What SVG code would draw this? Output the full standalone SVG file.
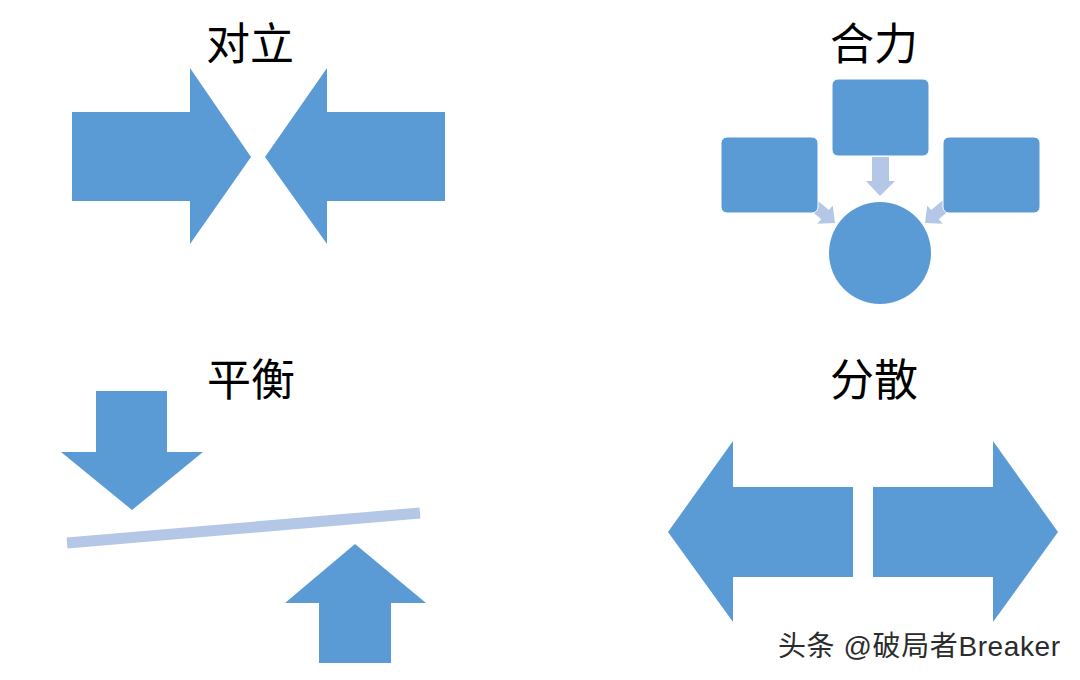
<svg xmlns="http://www.w3.org/2000/svg" width="1080" height="680" viewBox="0 0 1080 680">
<style>
.b{fill:#5B9BD5}
.l{fill:#B4C7E7}
.t{font-family:"Liberation Serif","Noto Sans CJK SC",serif;font-size:44px;fill:#000;text-anchor:middle}
.w{font-family:"Liberation Sans","Noto Sans CJK SC",sans-serif;font-size:28px;fill:#2b2b2b}
</style>
<rect width="1080" height="680" fill="#fff"/>
<g id="title-duili"><text class="t" x="250" y="60">对立</text></g>
<g id="title-heli"><text class="t" x="874" y="60">合力</text></g>
<g id="title-pingheng"><text class="t" x="251" y="396">平衡</text></g>
<g id="title-fensan"><text class="t" x="874" y="396">分散</text></g>

<g id="duili-arrow-right"><path class="b" d="M72,112 H190 V68 L251,157 L190,244 V201 H72 Z"/></g>
<g id="duili-arrow-left"><path class="b" d="M445,112 H327 V68 L265,157 L327,244 V201 H445 Z"/></g>

<g id="connectors">
<path class="l" d="M872,157 H889 V181 H895 L880,196 L866,181 H872 Z"/>
<path class="l" transform="translate(835,223) rotate(40)" d="M-28,-6 H-13 V-12 L0,0 L-13,12 V6 H-28 Z"/>
<path class="l" transform="translate(925,223) rotate(140)" d="M-28,-6 H-13 V-12 L0,0 L-13,12 V6 H-28 Z"/>
</g>
<g id="heli-top"><rect class="b" x="832" y="79" width="97" height="77" rx="6" stroke="#fff" stroke-width="1"/></g>
<g id="heli-left"><rect class="b" x="721" y="137" width="97" height="76" rx="6" stroke="#fff" stroke-width="1"/></g>
<g id="heli-right"><rect class="b" x="943" y="137" width="97" height="76" rx="6" stroke="#fff" stroke-width="1"/></g>
<g id="heli-circle"><circle class="b" cx="880" cy="253" r="51"/></g>

<g id="pingheng-down"><path class="b" d="M96,391 H167 V452 H203 L132,510 L61,452 H96 Z"/></g>
<g id="pingheng-beam"><path d="M67,543 L420,513" stroke="#B4C7E7" stroke-width="11" fill="none"/></g>
<g id="pingheng-up"><path class="b" d="M319,663 H391 V603 H426 L355,544 L285,603 H319 Z"/></g>

<g id="fensan-left"><path class="b" d="M853,487 H733 V441 L668,532 L733,622 V577 H853 Z"/></g>
<g id="fensan-right"><path class="b" d="M873,487 H993 V441 L1058,532 L993,622 V577 H873 Z"/></g>

<g id="watermark"><text class="w" x="778" y="656" textLength="282" lengthAdjust="spacing">头条 @破局者Breaker</text></g>
</svg>
